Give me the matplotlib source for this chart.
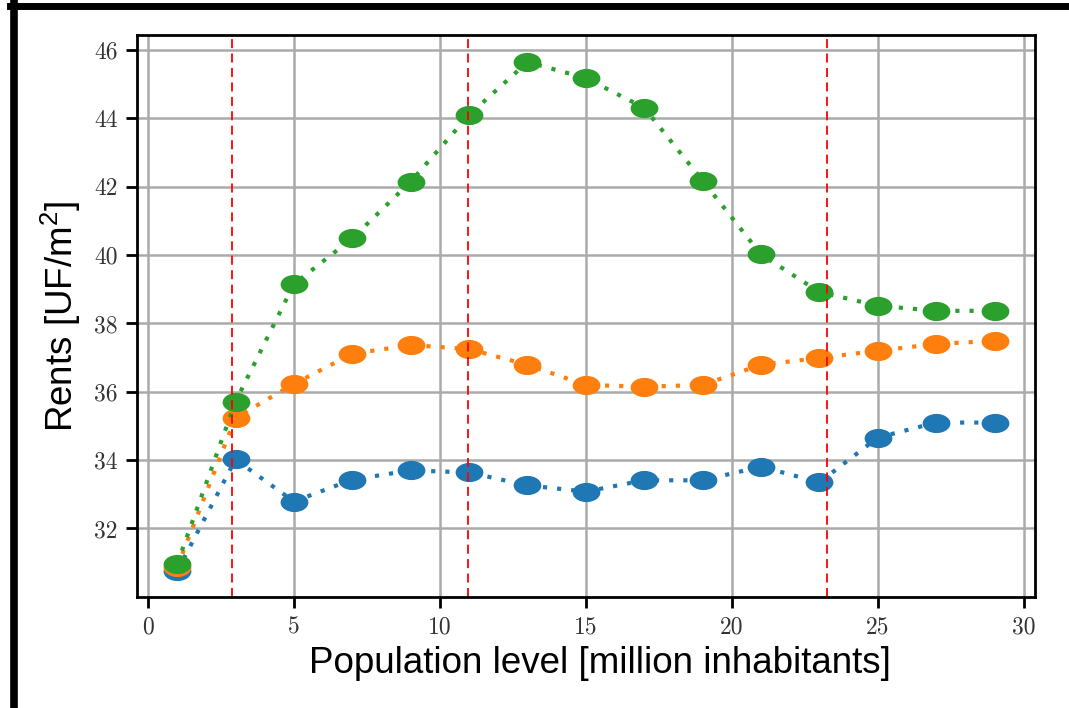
import numpy as np
import matplotlib
matplotlib.use('Agg')
from matplotlib import pyplot
from matplotlib.path import Path
from matplotlib.transforms import Affine2D
from matplotlib.lines import Line2D

pyplot.rcParams['mathtext.fontset'] = 'custom'
pyplot.rcParams['mathtext.rm'] = 'Liberation Sans'
pyplot.rcParams['mathtext.it'] = 'Liberation Sans'

population = [1, 3, 5, 7, 9, 11, 13, 15, 17, 19, 21, 23, 25, 27, 29]
rents_blue = [30.75, 34.02, 32.79, 33.43, 33.70, 33.64, 33.26, 33.08, 33.41, 33.41, 33.81, 33.35, 34.66, 35.10, 35.10]
rents_orange = [30.87, 35.24, 36.23, 37.11, 37.37, 37.25, 36.79, 36.20, 36.15, 36.20, 36.79, 36.99, 37.20, 37.40, 37.49]
rents_green = [30.96, 35.71, 39.15, 40.49, 42.15, 44.10, 45.65, 45.18, 44.31, 42.18, 40.02, 38.92, 38.52, 38.37, 38.37]
thresholds = [2.88, 10.95, 23.25]

xticks = [0, 5, 10, 15, 20, 25, 30]
yticks = [32, 34, 36, 38, 40, 42, 44, 46]

# stretched marker, the source picture was rescaled horizontally
ellipse = Path.unit_circle().transformed(Affine2D().scale(1.45, 1.0))

fig = pyplot.figure(figsize=(10.69, 7.08), dpi=100)
ax = fig.add_axes([0.128, 0.157, 0.840, 0.794])

for y, color in [(rents_blue, '#1f77b4'), (rents_orange, '#ff7f0e'), (rents_green, '#2ca02c')]:
    ax.plot(population, y, color=color, linestyle=(0, (1, 2.4)), linewidth=3,
            marker=ellipse, markersize=20, markeredgewidth=0)

for t in thresholds:
    ax.axvline(t, color='red', linestyle=(0, (5, 3)), linewidth=1.3)

ax.set_xlim(-0.38, 30.38)
ax.set_ylim(30.0, 46.45)
ax.set_xticks(xticks)
ax.set_yticks(yticks)
ax.grid(True, color='#aaaaaa', linewidth=1.8)
ax.set_axisbelow(True)
ax.tick_params(direction='out', length=8, width=2, pad=6)
for lab in ax.get_xticklabels() + ax.get_yticklabels():
    lab.set_fontfamily('cmr10')
    lab.set_fontsize(17)
    lab.set_color('#333333')
for s in ax.spines.values():
    s.set_linewidth(2)

ax.set_ylabel(r'Rents [UF/m$^2$]', fontsize=26.5, family='Liberation Sans', labelpad=8)
ax.set_xlabel('Population level [million inhabitants]', fontsize=26.5, family='Liberation Sans')
ax.xaxis.set_label_coords(0.516, -0.088)

# black frame on the top and left of the picture
fig.add_artist(Line2D([10 / 1069, 1], [1 - 6 / 708, 1 - 6 / 708], color='black', linewidth=5, transform=fig.transFigure))
fig.add_artist(Line2D([13.5 / 1069, 13.5 / 1069], [0, 1 - 3 / 708], color='black', linewidth=5.5, transform=fig.transFigure))

pyplot.savefig('out.png', dpi=100)
